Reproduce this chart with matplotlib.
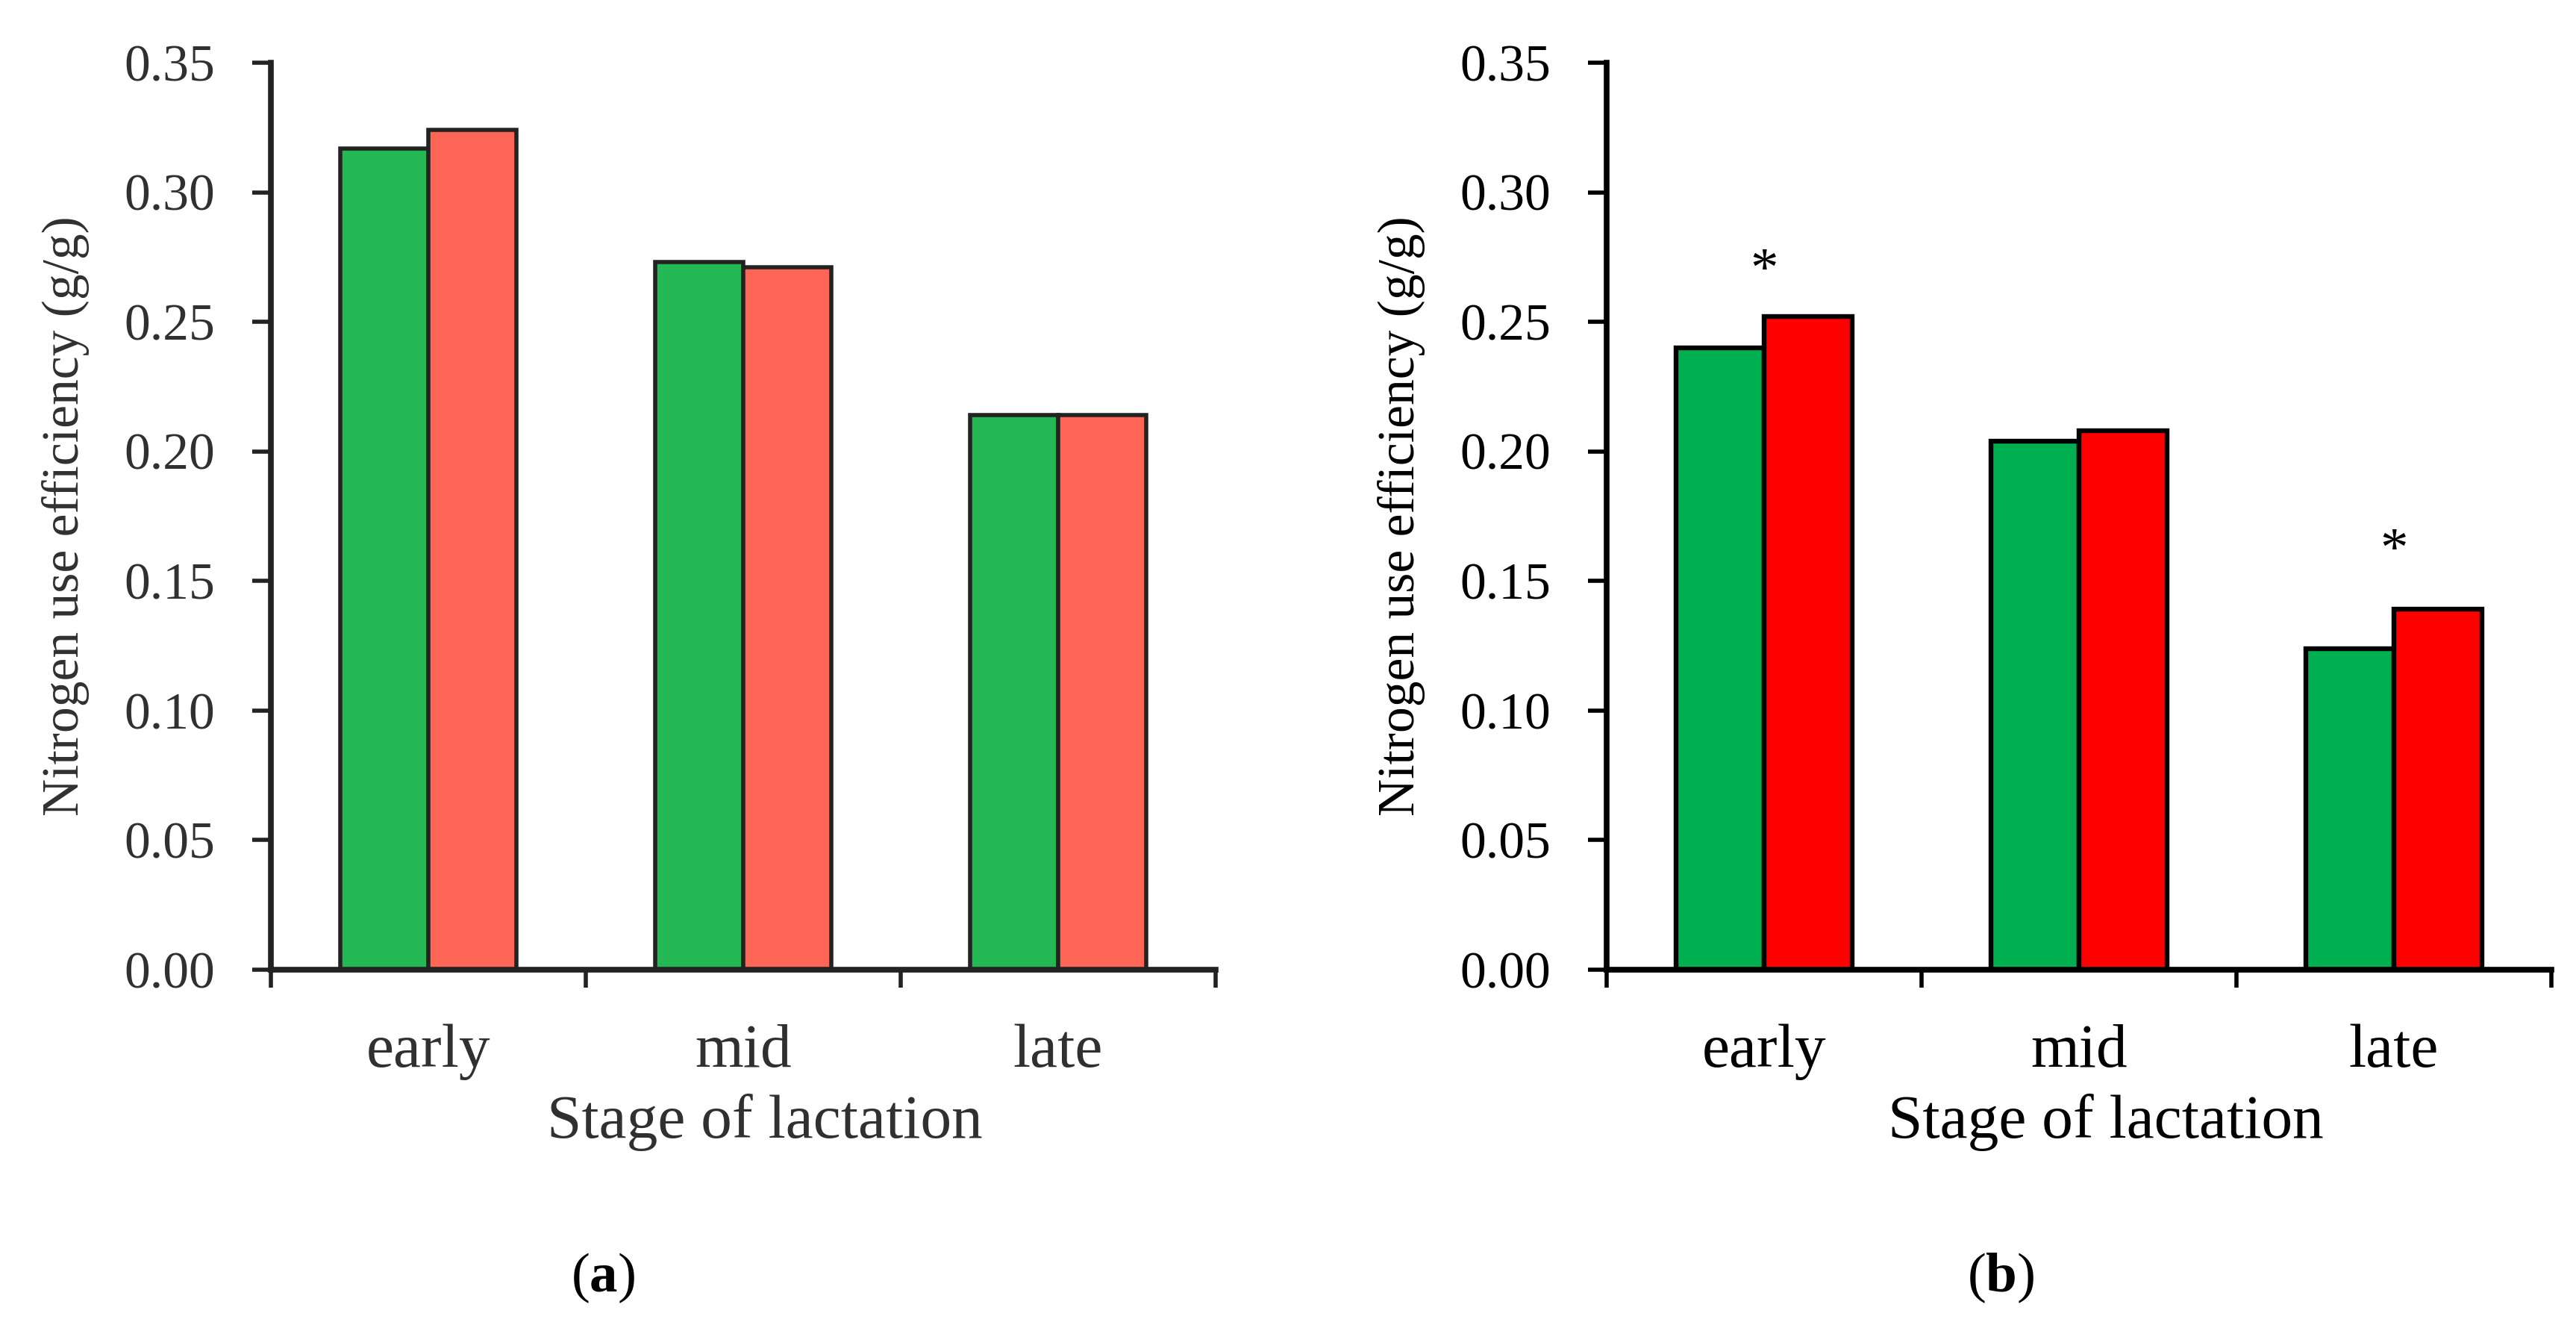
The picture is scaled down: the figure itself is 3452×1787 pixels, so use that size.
#Nitrogen use efficiency by stage of lactation, two panels
import numpy as np
import matplotlib
matplotlib.use("Agg")
import matplotlib.pyplot as plt

plt.rcParams['font.family'] = ['Liberation Serif', 'DejaVu Serif']
plt.rcParams['mathtext.fontset'] = 'custom'
plt.rcParams['mathtext.rm'] = 'Liberation Serif'
plt.rcParams['mathtext.bf'] = 'Liberation Serif:bold'

stages = ['early', 'mid', 'late']
nue_a_green = [0.317, 0.273, 0.214]
nue_a_red = [0.324, 0.271, 0.214]
nue_b_green = [0.240, 0.204, 0.124]
nue_b_red = [0.252, 0.208, 0.139]
# height of the significance asterisk (None = not significant)
sig_b = [0.269, None, 0.161]
yticks = [0.00, 0.05, 0.10, 0.15, 0.20, 0.25, 0.30, 0.35]

fig = plt.figure(figsize=(34.52, 17.87), dpi=100)

def panel(rect, green, red, c_green, c_red, edge, txt, sig=None, lw=4.2, xl=0.525):
    ax = fig.add_axes(rect)
    x = np.arange(len(stages))
    w = 0.28
    ax.bar(x - w/2, green, w, color=c_green, edgecolor=edge, linewidth=lw)
    ax.bar(x + w/2, red, w, color=c_red, edgecolor=edge, linewidth=lw)
    if sig is not None:
        for i in range(len(stages)):
            if sig[i] is not None:
                ax.text(x[i], sig[i], '*', ha='center', va='center',
                        fontsize=54, color=txt)
    ax.set_xlim(-0.5, len(stages) - 0.5)
    ax.set_ylim(0, 0.35)
    ax.set_yticks(yticks)
    ax.set_yticklabels(['%.2f' % v for v in yticks])
    ax.set_xticks(np.arange(len(stages) + 1) - 0.5)
    ax.set_xticklabels([])
    ax.set_xticks(x, minor=True)
    ax.set_xticklabels(stages, minor=True)
    ax.tick_params(axis='y', direction='out', length=18, width=4, pad=36,
                   labelsize=50, colors=edge, labelcolor=txt)
    ax.tick_params(axis='x', which='major', direction='out', length=17, width=4,
                   colors=edge)
    ax.tick_params(axis='x', which='minor', length=0, pad=52, labelsize=60,
                   labelcolor=txt)
    for s in ['top', 'right']:
        ax.spines[s].set_visible(False)
    for s in ['left', 'bottom']:
        ax.spines[s].set_linewidth(5.5)
        ax.spines[s].set_color(edge)
    ax.set_ylabel('Nitrogen use efficiency (g/g)', fontsize=50, color=txt)
    ax.yaxis.set_label_coords(-0.217, 0.5)
    ax.yaxis.label.set_verticalalignment('center')
    ax.set_xlabel('Stage of lactation', fontsize=60, color=txt)
    ax.xaxis.set_label_coords(xl, -0.168)
    ax.xaxis.label.set_verticalalignment('center')
    return ax

ax1 = panel([0.1052, 0.2731, 0.3667, 0.6799], nue_a_green, nue_a_red,
            '#24b855', '#ff6655', '#222222', '#303030', lw=4.0, xl=0.523)
ax2 = panel([0.6237, 0.2731, 0.3667, 0.6799], nue_b_green, nue_b_red,
            '#00af50', '#ff0000', 'black', 'black', sig_b, lw=4.6, xl=0.528)

fig.text(808/3452, 1 - 1712/1787, r'($\mathbf{a}$)', ha='center', va='center',
         fontsize=54, color='black')
fig.text(2681/3452, 1 - 1712/1787, r'($\mathbf{b}$)', ha='center', va='center',
         fontsize=54, color='black')

plt.savefig('out.png', dpi=100, facecolor='white')
